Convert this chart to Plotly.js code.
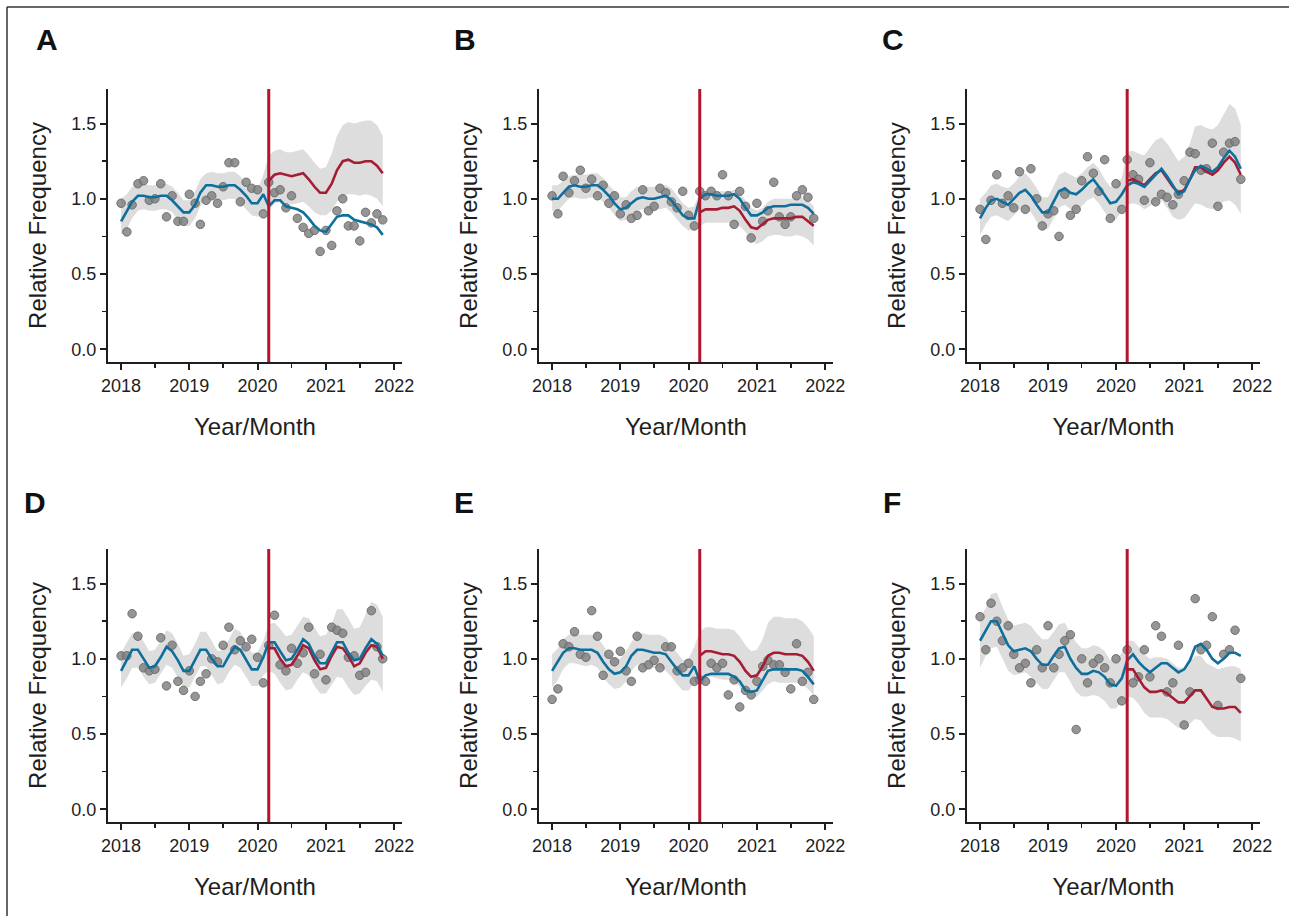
<!DOCTYPE html>
<html>
<head>
<meta charset="utf-8">
<script src="https://cdn.plot.ly/plotly-3.0.1.min.js"></script>
<style>html,body{margin:0;padding:0;background:#fff;}#chart{width:1289px;height:916px;}</style>
</head>
<body>
<div id="chart"></div>
<script>
// ---------- DATA ----------
const months = [
 '2018-01-01','2018-02-01','2018-03-01','2018-04-01','2018-05-01','2018-06-01','2018-07-01','2018-08-01','2018-09-01','2018-10-01','2018-11-01','2018-12-01',
 '2019-01-01','2019-02-01','2019-03-01','2019-04-01','2019-05-01','2019-06-01','2019-07-01','2019-08-01','2019-09-01','2019-10-01','2019-11-01','2019-12-01',
 '2020-01-01','2020-02-01','2020-03-01','2020-04-01','2020-05-01','2020-06-01','2020-07-01','2020-08-01','2020-09-01','2020-10-01','2020-11-01','2020-12-01',
 '2021-01-01','2021-02-01','2021-03-01','2021-04-01','2021-05-01','2021-06-01','2021-07-01','2021-08-01','2021-09-01','2021-10-01','2021-11-01'];
const interventionDate = '2020-03-01';
const panelLabels = ['A','B','C','D','E','F'];
const xTickYears = ['2018','2019','2020','2021','2022'];

const A_observed = [0.97,0.78,0.96,1.10,1.12,0.99,1.00,1.10,0.88,1.02,0.85,0.85,1.03,0.97,0.83,0.99,1.02,0.97,1.08,1.24,1.24,0.98,1.11,1.07,1.06,0.90,1.11,1.04,1.06,0.94,1.02,0.87,0.81,0.77,0.79,0.65,0.79,0.69,0.92,1.00,0.82,0.82,0.72,0.91,0.84,0.90,0.86];
const A_fitted = [0.85,0.92,0.98,1.02,1.02,1.01,1.01,1.02,1.02,0.99,0.95,0.91,0.91,0.96,1.04,1.09,1.09,1.08,1.08,1.09,1.09,1.06,1.02,0.97,0.97,1.03,0.95,0.99,0.99,0.95,0.94,0.93,0.91,0.87,0.82,0.79,0.78,0.83,0.88,0.89,0.89,0.86,0.85,0.84,0.83,0.81,0.76];
const A_counterfactual = [1.12,1.16,1.17,1.16,1.15,1.16,1.17,1.13,1.08,1.04,1.04,1.10,1.19,1.25,1.26,1.24,1.24,1.25,1.25,1.22,1.17];
const A_upper = [1.00,1.03,1.08,1.10,1.10,1.09,1.09,1.10,1.10,1.08,1.04,0.99,0.99,1.05,1.13,1.17,1.18,1.17,1.17,1.18,1.18,1.15,1.10,1.06,1.06,1.16,1.29,1.32,1.33,1.31,1.31,1.32,1.33,1.29,1.24,1.20,1.21,1.30,1.42,1.49,1.51,1.50,1.51,1.52,1.52,1.49,1.42];
const A_lower = [0.76,0.80,0.87,0.92,0.93,0.92,0.92,0.93,0.93,0.91,0.86,0.82,0.82,0.87,0.95,1.00,1.00,0.99,0.99,1.00,1.00,0.97,0.93,0.89,0.88,0.93,0.92,0.97,0.98,0.97,0.96,0.97,0.98,0.95,0.91,0.89,0.89,0.92,0.98,1.02,1.03,1.03,1.02,1.03,1.02,1.00,0.95];

const B_observed = [1.02,0.90,1.15,1.04,1.12,1.19,1.07,1.13,1.02,1.09,0.97,1.02,0.90,0.96,0.87,0.89,1.06,0.92,0.95,1.07,1.04,0.98,0.94,1.05,0.89,0.82,1.05,1.02,1.05,1.02,1.16,1.02,0.83,1.05,0.95,0.74,0.97,0.85,0.92,1.11,0.88,0.83,0.88,1.02,1.06,1.01,0.87];
const B_fitted = [1.00,1.00,1.04,1.08,1.09,1.08,1.08,1.09,1.09,1.06,1.02,0.97,0.93,0.94,0.97,1.00,1.01,1.00,1.00,1.01,1.02,0.99,0.94,0.89,0.87,0.87,1.00,1.03,1.03,1.02,1.02,1.02,1.03,1.00,0.94,0.89,0.89,0.91,0.94,0.95,0.95,0.95,0.96,0.96,0.96,0.94,0.90];
const B_counterfactual = [0.91,0.93,0.93,0.93,0.94,0.94,0.95,0.92,0.86,0.81,0.80,0.83,0.86,0.87,0.87,0.87,0.87,0.88,0.88,0.85,0.82];
const B_upper = [1.09,1.09,1.12,1.15,1.16,1.16,1.16,1.17,1.17,1.14,1.09,1.05,1.01,1.01,1.05,1.08,1.08,1.08,1.08,1.09,1.09,1.07,1.02,0.97,0.94,0.95,1.04,1.04,1.05,1.05,1.05,1.05,1.06,1.04,0.99,0.94,0.92,0.94,0.98,1.00,1.00,1.00,1.00,1.01,1.01,0.99,0.95];
const B_lower = [0.92,0.92,0.96,1.00,1.01,1.00,1.00,1.01,1.01,0.98,0.94,0.89,0.85,0.86,0.89,0.92,0.93,0.92,0.93,0.93,0.94,0.91,0.86,0.82,0.79,0.79,0.82,0.84,0.84,0.84,0.84,0.84,0.84,0.82,0.78,0.72,0.70,0.72,0.75,0.76,0.76,0.75,0.75,0.76,0.75,0.73,0.69];

const C_observed = [0.93,0.73,0.99,1.16,0.97,1.02,0.94,1.18,0.93,1.20,1.00,0.82,0.90,0.92,0.75,1.03,0.89,0.93,1.12,1.28,1.17,1.05,1.26,0.87,1.10,0.93,1.26,1.16,1.13,0.99,1.24,0.98,1.03,1.01,0.96,1.03,1.12,1.31,1.30,1.19,1.20,1.37,0.95,1.31,1.37,1.38,1.13];
const C_fitted = [0.87,0.94,0.99,1.00,0.98,0.96,1.00,1.04,1.06,1.02,0.96,0.91,0.91,0.98,1.05,1.07,1.04,1.03,1.06,1.10,1.13,1.08,1.02,0.97,0.98,1.03,1.09,1.11,1.10,1.08,1.12,1.16,1.20,1.15,1.09,1.03,1.05,1.13,1.19,1.22,1.20,1.18,1.21,1.27,1.32,1.28,1.20];
const C_counterfactual = [1.12,1.13,1.11,1.09,1.13,1.17,1.19,1.14,1.08,1.04,1.06,1.13,1.21,1.21,1.18,1.16,1.19,1.24,1.28,1.24,1.16];
const C_upper = [1.00,1.04,1.09,1.10,1.08,1.07,1.10,1.15,1.17,1.13,1.07,1.01,1.01,1.09,1.16,1.18,1.16,1.14,1.17,1.21,1.24,1.20,1.13,1.08,1.09,1.14,1.31,1.32,1.30,1.29,1.34,1.39,1.41,1.37,1.31,1.25,1.28,1.37,1.48,1.49,1.47,1.46,1.49,1.56,1.63,1.60,1.49];
const C_lower = [0.76,0.83,0.88,0.89,0.87,0.85,0.89,0.93,0.95,0.91,0.85,0.80,0.80,0.87,0.94,0.96,0.93,0.92,0.95,0.99,1.01,0.97,0.91,0.86,0.86,0.92,0.96,0.97,0.96,0.93,0.95,0.98,0.99,0.94,0.88,0.86,0.87,0.92,0.97,0.96,0.94,0.93,0.95,0.98,0.99,0.96,0.90];

const D_observed = [1.02,1.02,1.30,1.15,0.94,0.92,0.93,1.14,0.82,1.09,0.85,0.79,0.92,0.75,0.85,0.90,1.00,0.98,1.09,1.21,1.06,1.12,1.08,1.13,1.01,0.84,1.09,1.29,0.96,0.92,1.07,0.97,1.04,1.21,0.90,1.03,0.86,1.21,1.19,1.17,1.01,1.02,0.89,0.91,1.32,1.08,1.00];
const D_fitted = [0.92,0.99,1.06,1.06,1.00,0.94,0.95,1.01,1.08,1.05,0.99,0.92,0.92,0.99,1.06,1.06,1.00,0.95,0.95,1.02,1.08,1.06,0.99,0.93,0.93,1.01,1.11,1.11,1.05,0.99,1.00,1.06,1.13,1.10,1.02,0.97,0.97,1.04,1.11,1.11,1.04,0.99,1.00,1.07,1.13,1.10,1.02];
const D_counterfactual = [1.07,1.07,1.00,0.95,0.96,1.02,1.09,1.07,0.99,0.93,0.94,1.02,1.08,1.07,1.02,0.95,0.97,1.04,1.09,1.08,1.00];
const D_upper = [1.04,1.11,1.17,1.18,1.12,1.05,1.06,1.12,1.19,1.17,1.10,1.02,1.03,1.10,1.18,1.18,1.12,1.05,1.06,1.13,1.20,1.18,1.11,1.04,1.04,1.12,1.23,1.24,1.20,1.15,1.16,1.22,1.28,1.27,1.21,1.15,1.16,1.23,1.33,1.33,1.27,1.20,1.21,1.29,1.38,1.36,1.28];
const D_lower = [0.81,0.87,0.94,0.94,0.88,0.83,0.84,0.90,0.96,0.94,0.87,0.81,0.81,0.88,0.95,0.95,0.89,0.83,0.84,0.91,0.96,0.94,0.88,0.82,0.82,0.89,0.92,0.90,0.84,0.79,0.80,0.86,0.91,0.89,0.82,0.77,0.77,0.83,0.88,0.87,0.81,0.76,0.77,0.82,0.86,0.85,0.78];

const E_observed = [0.73,0.80,1.10,1.08,1.18,1.03,1.01,1.32,1.15,0.89,1.03,0.98,1.05,0.92,0.85,1.15,0.94,0.96,0.99,0.94,1.08,1.08,0.92,0.94,0.97,0.85,0.86,0.85,0.97,0.94,0.97,0.76,0.86,0.68,0.79,0.76,0.85,0.95,0.99,0.96,0.96,0.91,0.80,1.10,0.85,0.91,0.73];
const E_fitted = [0.92,0.98,1.04,1.07,1.07,1.06,1.06,1.06,1.04,0.98,0.93,0.90,0.91,0.95,1.02,1.06,1.06,1.05,1.04,1.04,1.03,0.98,0.93,0.89,0.89,0.95,0.85,0.89,0.90,0.90,0.90,0.90,0.88,0.85,0.79,0.78,0.79,0.86,0.92,0.93,0.93,0.93,0.93,0.93,0.92,0.88,0.83];
const E_counterfactual = [1.02,1.05,1.05,1.04,1.03,1.03,1.02,0.98,0.92,0.88,0.89,0.95,1.02,1.04,1.04,1.03,1.03,1.03,1.02,0.98,0.92];
const E_upper = [1.03,1.07,1.13,1.16,1.17,1.16,1.16,1.16,1.14,1.09,1.03,1.00,1.00,1.05,1.11,1.16,1.17,1.16,1.16,1.16,1.14,1.09,1.04,0.99,1.00,1.08,1.18,1.21,1.21,1.20,1.20,1.20,1.19,1.15,1.09,1.05,1.06,1.13,1.24,1.28,1.28,1.27,1.27,1.27,1.25,1.21,1.15];
const E_lower = [0.81,0.86,0.93,0.97,0.97,0.96,0.95,0.96,0.94,0.88,0.83,0.80,0.81,0.85,0.92,0.96,0.96,0.95,0.94,0.94,0.92,0.88,0.83,0.79,0.79,0.84,0.86,0.88,0.88,0.87,0.86,0.86,0.85,0.81,0.77,0.75,0.75,0.79,0.83,0.85,0.84,0.84,0.84,0.84,0.83,0.80,0.76];

const F_observed = [1.28,1.06,1.37,1.25,1.12,1.22,1.03,0.94,0.97,0.84,1.06,0.94,1.22,0.94,1.03,1.12,1.16,0.53,1.00,0.84,0.97,1.00,0.94,0.84,1.00,0.72,1.06,0.84,0.88,1.06,0.88,1.22,1.15,0.78,0.84,1.09,0.56,0.78,1.40,1.06,1.09,1.28,0.69,1.03,1.06,1.19,0.87];
const F_fitted = [1.12,1.19,1.25,1.25,1.17,1.09,1.05,1.06,1.07,1.05,1.00,0.96,0.96,1.02,1.07,1.08,1.00,0.94,0.90,0.90,0.92,0.91,0.88,0.83,0.82,0.87,0.99,1.03,0.98,0.94,0.91,0.94,0.97,0.97,0.94,0.91,0.93,0.99,1.08,1.10,1.06,1.00,0.97,1.00,1.04,1.04,1.02];
const F_counterfactual = [0.93,0.93,0.87,0.81,0.78,0.78,0.79,0.77,0.74,0.71,0.71,0.75,0.79,0.79,0.74,0.68,0.67,0.67,0.68,0.68,0.64];
const F_upper = [1.27,1.34,1.43,1.44,1.35,1.26,1.22,1.23,1.24,1.22,1.17,1.13,1.13,1.18,1.23,1.24,1.17,1.11,1.07,1.07,1.09,1.08,1.05,0.99,0.99,1.04,1.12,1.12,1.08,1.03,1.00,1.01,1.01,1.00,0.97,0.94,0.94,0.98,1.02,1.02,0.97,0.95,0.93,0.94,0.95,0.95,0.93];
const F_lower = [0.94,1.02,1.07,1.08,1.00,0.92,0.89,0.90,0.91,0.88,0.84,0.80,0.80,0.86,0.91,0.91,0.85,0.78,0.75,0.75,0.76,0.75,0.72,0.67,0.67,0.72,0.75,0.74,0.70,0.64,0.61,0.61,0.61,0.60,0.57,0.54,0.54,0.57,0.60,0.59,0.54,0.50,0.48,0.48,0.48,0.47,0.45];

// ---------- LAYOUT CONSTANTS ----------
const W = 1289, H = 916;
const colPx = [[108, 402], [539, 833], [967, 1260]];
const rowPx = [[89, 362], [549, 822]];
const letterPos = [[47, 40], [465, 40], [893, 40], [35, 502], [464, 502], [892, 502]];
const FONT = '"Liberation Sans", Arial, Helvetica, sans-serif';
const INK = '#1e1e1e';
const BLUE = '#0e6f9c';
const RED = '#a51c33';
const VLINE = '#b3152c';

const panels = [
  {obs: A_observed, fit: A_fitted, cf: A_counterfactual, up: A_upper, lo: A_lower},
  {obs: B_observed, fit: B_fitted, cf: B_counterfactual, up: B_upper, lo: B_lower},
  {obs: C_observed, fit: C_fitted, cf: C_counterfactual, up: C_upper, lo: C_lower},
  {obs: D_observed, fit: D_fitted, cf: D_counterfactual, up: D_upper, lo: D_lower},
  {obs: E_observed, fit: E_fitted, cf: E_counterfactual, up: E_upper, lo: E_lower},
  {obs: F_observed, fit: F_fitted, cf: F_counterfactual, up: F_upper, lo: F_lower}
];

const postMonths = months.slice(months.indexOf(interventionDate));
const traces = [];
const layout = {
  width: W, height: H,
  margin: {l: 0, r: 0, t: 0, b: 0},
  paper_bgcolor: '#ffffff', plot_bgcolor: 'rgba(0,0,0,0)',
  showlegend: false,
  font: {family: FONT, color: INK},
  shapes: [], annotations: []
};

panels.forEach((p, k) => {
  const sfx = k === 0 ? '' : String(k + 1);
  const xa = 'x' + sfx, ya = 'y' + sfx;
  const col = colPx[k % 3], row = rowPx[Math.floor(k / 3)];
  const bandX = months.concat(months.slice().reverse());
  const bandY = p.up.concat(p.lo.slice().reverse());
  traces.push({type: 'scatter', x: bandX, y: bandY, xaxis: xa, yaxis: ya, mode: 'lines',
    fill: 'toself', fillcolor: '#dddddd', line: {width: 0, color: 'rgba(0,0,0,0)'}, hoverinfo: 'skip'});
  traces.push({type: 'scatter', x: months, y: p.obs, xaxis: xa, yaxis: ya, mode: 'markers',
    marker: {size: 8.5, color: 'rgba(130,130,130,0.85)', line: {width: 1, color: 'rgba(105,105,105,0.9)'}}});
  traces.push({type: 'scatter', x: postMonths, y: p.cf, xaxis: xa, yaxis: ya, mode: 'lines',
    line: {color: RED, width: 2.6}});
  traces.push({type: 'scatter', x: months, y: p.fit, xaxis: xa, yaxis: ya, mode: 'lines',
    line: {color: BLUE, width: 2.6}});

  layout['xaxis' + sfx] = {
    type: 'date', domain: [col[0] / W, col[1] / W], anchor: ya,
    range: ['2017-10-23', '2022-02-12'],
    tickvals: xTickYears.map(y => y + '-01-01'), ticktext: xTickYears,
    ticks: 'outside', ticklen: 6, tickwidth: 2, tickcolor: INK,
    minor: {dtick: 'M6', tick0: '2018-01-01', ticks: 'outside', ticklen: 4, tickwidth: 1.5, tickcolor: INK},
    showline: true, linecolor: INK, linewidth: 2, showgrid: false, zeroline: false,
    tickfont: {size: 18, color: INK, family: FONT},
    title: {text: 'Year/Month', font: {size: 24, color: INK, family: FONT}, standoff: 24},
    automargin: false, fixedrange: true
  };
  layout['yaxis' + sfx] = {
    domain: [1 - row[1] / H, 1 - row[0] / H], anchor: xa,
    range: [-0.085, 1.73], tick0: 0, dtick: 0.5, tickformat: '.1f',
    ticks: 'outside', ticklen: 6, tickwidth: 2, tickcolor: INK,
    minor: {dtick: 0.25, tick0: 0, ticks: 'outside', ticklen: 4, tickwidth: 1.5, tickcolor: INK},
    showline: true, linecolor: INK, linewidth: 2, showgrid: false, zeroline: false,
    tickfont: {size: 18, color: INK, family: FONT},
    title: {text: 'Relative Frequency', font: {size: 24, color: INK, family: FONT}, standoff: 18},
    automargin: false, fixedrange: true
  };
  layout.shapes.push({type: 'line', xref: xa, yref: ya + ' domain', x0: interventionDate, x1: interventionDate,
    y0: 0, y1: 1, line: {color: VLINE, width: 3}, layer: 'above'});
  layout.annotations.push({xref: 'paper', yref: 'paper', x: letterPos[k][0] / W, y: 1 - letterPos[k][1] / H,
    text: '<b>' + panelLabels[k] + '</b>', showarrow: false, xanchor: 'center', yanchor: 'middle',
    font: {size: 30, color: '#111', family: FONT}});
});

// figure frame (top and left rule)
layout.shapes.push({type: 'line', xref: 'paper', yref: 'paper', x0: 7 / W, x1: 1, y0: 1 - 7 / H, y1: 1 - 7 / H,
  line: {color: '#333', width: 1.5}});
layout.shapes.push({type: 'line', xref: 'paper', yref: 'paper', x0: 7 / W, x1: 7 / W, y0: 0, y1: 1 - 7 / H,
  line: {color: '#333', width: 1.5}});

Plotly.newPlot('chart', traces, layout, {displayModeBar: false, staticPlot: true});
</script>
</body>
</html>
